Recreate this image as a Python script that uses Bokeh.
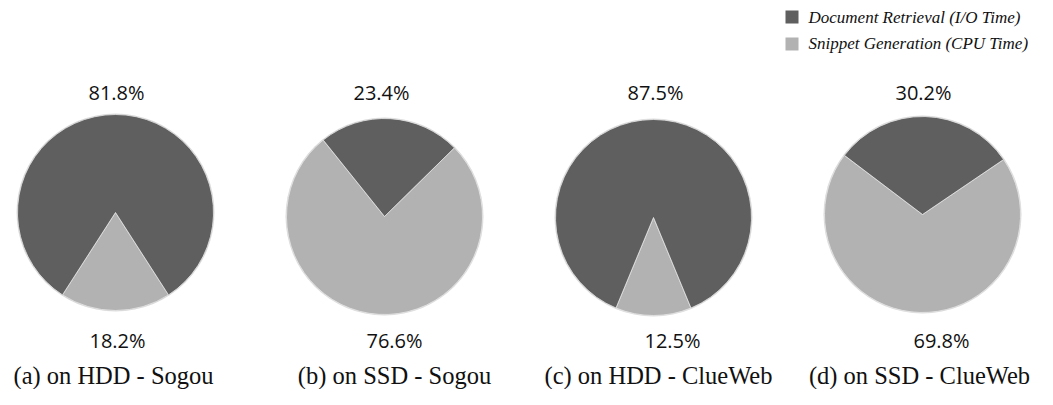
import math
from bokeh.plotting import figure
from bokeh.models import Range1d
from bokeh.core.properties import value
from bokeh.embed import file_html
from bokeh.resources import INLINE

# ---------------- data ----------------
panels = ["(a)", "(b)", "(c)", "(d)"]
devices = ["HDD", "SSD", "HDD", "SSD"]
datasets = ["Sogou", "Sogou", "ClueWeb", "ClueWeb"]
io_pct = [81.8, 23.4, 87.5, 30.2]     # Document Retrieval (I/O Time)
cpu_pct = [18.2, 76.6, 12.5, 69.8]    # Snippet Generation (CPU Time)
series_names = ["Document Retrieval (I/O Time)", "Snippet Generation (CPU Time)"]

# ---------------- layout / style ----------------
W, H = 1053, 405
PW, PH = W - 16, H - 16
DARK = "#5f5f5f"
LIGHT = "#b2b2b2"
cx = [115, 384, 653, 922]            # pie centres (screen px)
cy = [212, 216, 217, 214]
rot = [0.0, -3.4, 0.0, -1.5]         # small rotation of each pie (deg)
R = 98
top_lbl_x = [116, 381, 655, 923]
bot_lbl_x = [117, 394, 672, 941]
cap_x = [113, 394, 658, 919]
TOP_LBL_Y, BOT_LBL_Y, CAP_Y = 92, 340, 375


def sy(y):
    return PH - y  # screen y -> data y (y up)


p = figure(width=PW, height=PH, output_backend="svg",
           toolbar_location=None, x_range=Range1d(0, PW),
           y_range=Range1d(0, PH), min_border=0)
p.axis.visible = False
p.grid.visible = False
p.outline_line_color = None
p.background_fill_color = "white"
p.border_fill_color = "white"

wx, wy, ws, we, wc = [], [], [], [], []
for i in range(4):
    tot = io_pct[i] + cpu_pct[i]
    half_light = math.pi * cpu_pct[i] / tot
    centre = math.radians(270 + rot[i])
    ls, le = centre - half_light, centre + half_light
    # light slice (CPU) centred at bottom, dark (I/O) the rest
    wx += [cx[i], cx[i]]
    wy += [sy(cy[i]), sy(cy[i])]
    ws += [ls, le]
    we += [le, ls + 2 * math.pi]
    wc += [LIGHT, DARK]

# outer faint rim
p.circle(x=[cx[i] for i in range(4)], y=[sy(cy[i]) for i in range(4)],
         radius=R + 1, fill_color="#dcdcdc", line_color=None)
p.wedge(x=wx, y=wy, radius=R, start_angle=ws, end_angle=we,
        fill_color=wc, line_color="#e6e6e6", line_width=0.8)

# percentage labels
p.text(x=top_lbl_x, y=[sy(TOP_LBL_Y)] * 4, text=[f"{v:.1f}%" for v in io_pct],
       text_font=value("Open Sans"), text_font_size="20px",
       text_color="#111111", text_align="center", text_baseline="middle")
p.text(x=bot_lbl_x, y=[sy(BOT_LBL_Y)] * 4, text=[f"{v:.1f}%" for v in cpu_pct],
       text_font=value("Open Sans"), text_font_size="20px",
       text_color="#111111", text_align="center", text_baseline="middle")

# captions
caps = [f"{panels[i]} on {devices[i]} - {datasets[i]}" for i in range(4)]
p.text(x=cap_x, y=[sy(CAP_Y)] * 4, text=caps,
       text_font=value("Liberation Serif"), text_font_size="24.5px",
       text_color="#111111", text_align="center", text_baseline="middle")

# legend
p.rect(x=[791.5, 791.5], y=[sy(16.5), sy(43.5)], width=13, height=13,
       fill_color=[DARK, LIGHT], line_color=None)
p.text(x=[808, 808], y=[sy(17), sy(43)], text=series_names,
       text_font=value("Liberation Serif"), text_font_size="17px",
       text_font_style="italic", text_color="#111111",
       text_align="left", text_baseline="middle")

open("out.html", "w").write(file_html(p, INLINE))
